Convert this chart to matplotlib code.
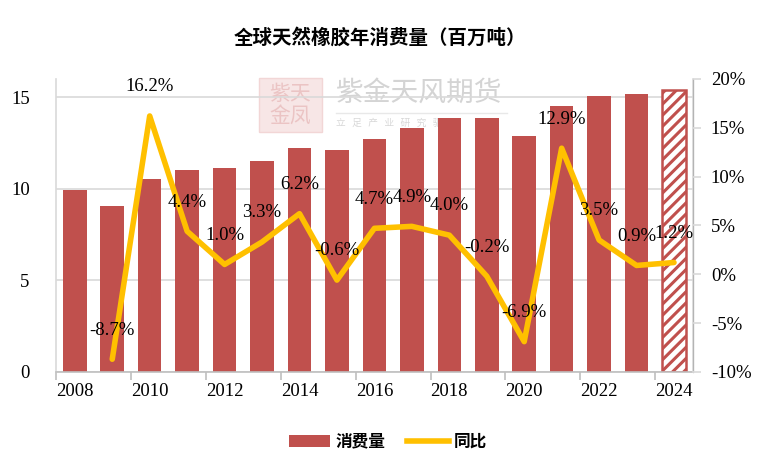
import numpy as np
import matplotlib
matplotlib.use("Agg")
import matplotlib.pyplot as plt
from matplotlib.patches import Patch, Rectangle
from matplotlib.lines import Line2D

# --- data ---
years = list(range(2008, 2025))
consumption = [9.95, 9.08, 10.55, 11.02, 11.13, 11.50, 12.21, 12.14, 12.71,
               13.33, 13.87, 13.84, 12.88, 14.54, 15.05, 15.19, 15.37]
yoy_years = list(range(2009, 2025))
yoy = [-8.7, 16.2, 4.4, 1.0, 3.3, 6.2, -0.6, 4.7, 4.9, 4.0, -0.2, -6.9,
       12.9, 3.5, 0.9, 1.2]
year_ticks = list(range(2008, 2025, 2))

BAR = "#C0504D"
LINE = "#FFC000"
GRID = "#D9D9D9"
NUM_FONT = "Liberation Serif"
CJK_FONT = ["Noto Sans CJK SC", "DejaVu Sans"]

plt.rcParams["hatch.color"] = BAR
plt.rcParams["hatch.linewidth"] = 2.2

fig = plt.figure(figsize=(7.68, 4.72), dpi=100)
ax = fig.add_axes([0.073, 0.212, 0.829, 0.621])
ax2 = ax.twinx()
ax.patch.set_visible(False)

x = np.arange(len(years))
bars = ax.bar(x, consumption, width=0.63, color=BAR, zorder=2)
# forecast year: hatched
last = bars[-1]
last.set_facecolor("white")
last.set_edgecolor(BAR)
last.set_hatch("///")
last.set_linewidth(1.8)

ax.set_xlim(-0.5, len(years) - 0.5)
ax.set_ylim(0, 16)
ax.set_yticks([0, 5, 10, 15])
ax.yaxis.grid(True, color=GRID, linewidth=1.2, zorder=0)
ax.set_axisbelow(True)
ax.tick_params(axis="y", length=0, pad=19, labelsize=13.5)

yx = [years.index(y) for y in year_ticks]
ax.set_xticks(yx)
ax.set_xticklabels([str(y) for y in year_ticks])
ax.set_xticks(np.arange(-0.5, len(years), 2), minor=True)
ax.tick_params(axis="x", which="major", length=0, pad=8, labelsize=13.5)
ax.tick_params(axis="x", which="minor", length=6, color="#BFBFBF", width=1.2)

ax.spines["top"].set_visible(False)
ax2.spines["top"].set_visible(False)
for sp in [ax.spines["left"], ax2.spines["right"]]:
    sp.set_color(GRID)
    sp.set_linewidth(1.2)
ax.spines["bottom"].set_color("#BFBFBF")
ax.spines["bottom"].set_linewidth(1.2)
ax2.spines["left"].set_visible(False)
ax2.spines["bottom"].set_visible(False)

for lbl in ax.get_xticklabels() + ax.get_yticklabels():
    lbl.set_fontfamily(NUM_FONT)

# yoy line
lx = [years.index(y) for y in yoy_years]
ax2.plot(lx, yoy, color=LINE, linewidth=4, solid_capstyle="round", zorder=3)
ax2.set_ylim(-10, 20)
ax2.set_yticks(range(-10, 21, 5))
ax2.set_yticklabels([f"{v}%" for v in range(-10, 21, 5)])
ax2.tick_params(axis="y", length=6, color=GRID, width=1.2, labelsize=13.5, pad=7)
for lbl in ax2.get_yticklabels():
    lbl.set_fontfamily(NUM_FONT)

for xi, v in zip(lx, yoy):
    ax2.annotate(f"{v:.1f}%", (xi, v), xytext=(0, 21), textcoords="offset points",
                 ha="center", va="center", fontsize=13.5, family=NUM_FONT,
                 color="black", zorder=4)

# watermark (behind the plot)
fig.patches.append(Rectangle((0.337, 0.72), 0.082, 0.115, transform=fig.transFigure,
                             facecolor="#F7E6E6", edgecolor="#F2D6D6", zorder=-2))
fig.text(0.378, 0.778, "紫天\n金凤", family=CJK_FONT, fontsize=15, color="#EBC4C4",
         ha="center", va="center", linespacing=0.95, zorder=-1)
fig.text(0.438, 0.803, "紫金天风期货", family=CJK_FONT, fontsize=20,
         color="#D4D4D4", ha="left", va="center", zorder=-1)
fig.lines.append(Line2D([0.438, 0.66], [0.761, 0.761], transform=fig.transFigure,
                        color="#E8E8E8", linewidth=1, zorder=-1))
fig.text(0.438, 0.739, "立   足   产   业   研   究   驱   动", family=CJK_FONT,
         fontsize=7, color="#D8D8D8", ha="left", va="center", zorder=-1)

fig.suptitle("全球天然橡胶年消费量（百万吨）", x=0.495, y=0.94, family=CJK_FONT,
             fontsize=14, fontweight="bold")

handles = [Patch(facecolor=BAR, label="消费量"),
           Line2D([0], [0], color=LINE, linewidth=4, label="同比")]
fig.legend(handles=handles, loc="center", bbox_to_anchor=(0.505, 0.064), ncol=2,
           frameon=False, prop={"family": CJK_FONT, "size": 12, "weight": "bold"},
           handlelength=2.5, handleheight=0.8, columnspacing=1.3, handletextpad=0.3)

fig.savefig("out.png", dpi=100)
